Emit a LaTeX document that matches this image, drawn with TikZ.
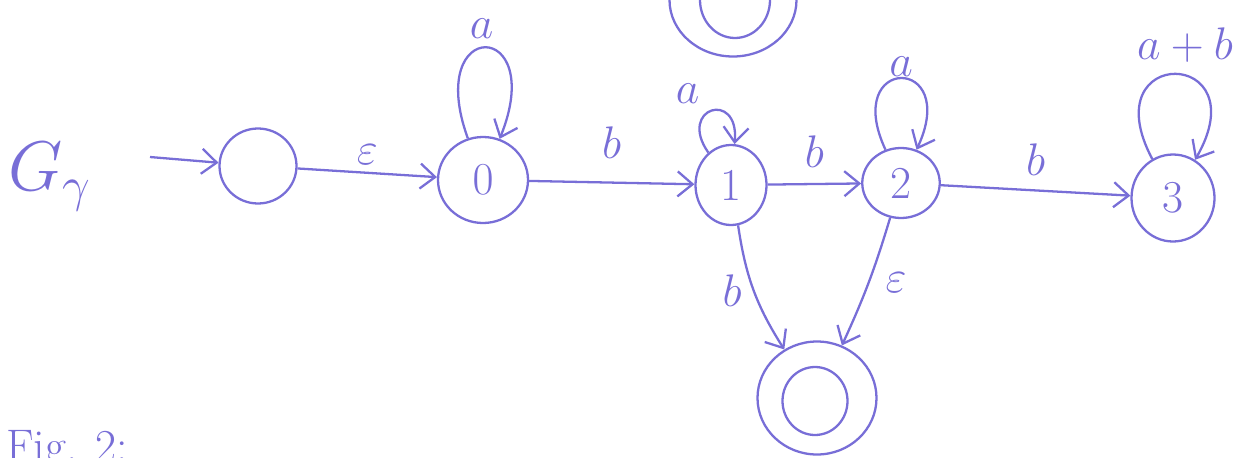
\RequirePackage{fix-cm}
\documentclass[tikz,border=0pt]{standalone}
\usepackage{amsmath}
\usepackage{xcolor}
\usepackage{tikz}
\usetikzlibrary{shapes.geometric,arrows.meta,positioning}

\definecolor{ink}{RGB}{120,110,215}

\begin{document}
\begin{tikzpicture}[
    state/.style={draw=ink, ellipse, line width=1.3pt, inner sep=0pt},
    arr/.style={draw=ink, line width=1.3pt, -{Straight Barb[length=3mm,width=5mm]}},
    lbl/.style={text=ink, font=\fontsize{26}{30}\selectfont}
]
    \useasboundingbox (0,0) rectangle (25.08,9.14);

    % name of the automaton
    \node[lbl, font=\fontsize{40}{44}\selectfont] (name) at (1.0,5.6) {$G_\gamma$};

    % states
    \node[state, minimum width=1.54cm, minimum height=1.5cm] (s) at (5.16,5.82) {};
    \node[state, lbl, minimum width=1.8cm, minimum height=1.72cm] (q0) at (9.66,5.54) {$0$};
    \node[state, lbl, minimum width=1.42cm, minimum height=1.6cm] (q1) at (14.62,5.44) {1};
    \node[state, lbl, minimum width=1.55cm, minimum height=1.4cm] (q2) at (18.02,5.48) {2};
    \node[state, lbl, minimum width=1.66cm, minimum height=1.74cm] (q3) at (23.46,5.18) {3};

    % final states
    \node[state, minimum width=2.38cm, minimum height=2.26cm] (fin) at (16.34,1.18) {};
    \node[state, minimum width=1.3cm, minimum height=1.36cm] (fin in) at (16.3,1.12) {};
    \node[state, minimum width=2.54cm, minimum height=2.26cm] (top) at (14.66,9.14) {};
    \node[state, minimum width=1.4cm, minimum height=1.52cm] (top in) at (14.7,9.14) {};

    % start arrow
    \coordinate (init) at (3.0,6.0);
    \draw[arr] (init) -- (s);

    % transitions
    \draw[arr] (s) -- node[lbl, above=1pt] {$\varepsilon$} (q0);
    \draw[arr] (q0) -- node[lbl, above=0.35cm] {$b$} (q1);
    \draw[arr] (q1) -- node[lbl, above=0.2cm] {$b$} (q2);
    \draw[arr] (q2) -- node[lbl, above=0.15cm] {$b$} (q3);
    \draw[arr] (q1) to[bend right=12] node[lbl, left=0.1cm] {$b$} (fin);
    \draw[arr] (q2) to[bend left=4] node[lbl, right=0.2cm] {$\varepsilon$} (fin);

    % self loops
    \draw[arr] (q0) to[loop, out=110, in=68, looseness=1, min distance=2.6cm] node[lbl, above left=0.05cm and -0.3cm] {$a$} (q0);
    \draw[arr] (q1) to[loop, out=125, in=85, looseness=1, min distance=1.1cm] node[lbl, above left=0cm and 0.1cm] {$a$} (q1);
    \draw[arr] (q2) to[loop, out=115, in=65, looseness=1, min distance=2.1cm] node[lbl, above=-0.1cm] {$a$} (q2);
    \draw[arr] (q3) to[loop, out=118, in=60, looseness=1, min distance=2.6cm] node[lbl, above right=0.1cm and -0.9cm] {$a+b$} (q3);

    % caption, cut by the page edge
    \node[lbl, anchor=north west] (cap) at (0,0.66) {Fig. 2:};
\end{tikzpicture}
\end{document}
